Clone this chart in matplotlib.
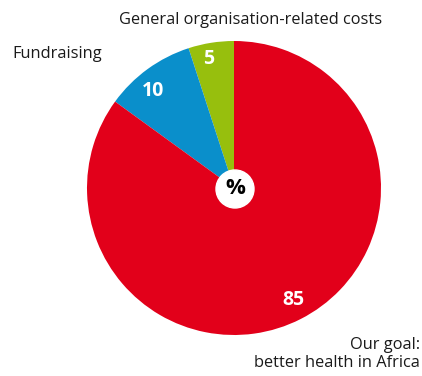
import matplotlib
matplotlib.use("Agg")
import matplotlib.pyplot as plt
from matplotlib.patches import Circle

# shares in percent, drawn counterclockwise from 12 o'clock
labels = ["General organisation-related costs", "Fundraising", "Our goal:\nbetter health in Africa"]
values = [5, 10, 85]
colors = ["#97BF0D", "#0A8FCB", "#E2001A"]

plt.rcParams['font.family'] = ['Open Sans', 'DejaVu Sans']

fig = plt.figure(figsize=(4.22, 3.76), dpi=100)
ax = fig.add_axes([0, 0, 1, 1])

cx, cy, r = 234, 188, 147
wedges, texts = ax.pie(values, colors=colors, startangle=90, counterclock=True,
                       center=(cx, cy), radius=r, frame=True,
                       wedgeprops=dict(linewidth=0))
ax.set_xlim(0, 422)
ax.set_ylim(0, 376)
ax.set_aspect('equal')
ax.axis('off')

# value labels inside the slices
val_pos = [(209, 376 - 59), (153, 376 - 91), (293, 376 - 300)]
for (x, y), v in zip(val_pos, values):
    ax.text(x, y, str(v), color="white", fontsize=14, fontweight="bold",
            ha="center", va="center")

# white centre with percent sign
ax.add_patch(Circle((cx + 1, cy - 1), 19, color="white", zorder=5))
ax.text(cx + 1, cy - 1, "%", fontsize=16, fontweight="bold", color="black",
        ha="center", va="center", zorder=6)

# category labels
ax.text(251, 376 - 20, labels[0], fontsize=11.8, ha="center", va="center", color="#1a1a1a")
ax.text(12, 376 - 54, labels[1], fontsize=11.8, ha="left", va="center", color="#1a1a1a")
ax.text(420, 376 - 354, labels[2], fontsize=11.8, ha="right", va="center",
        color="#1a1a1a", multialignment="right", linespacing=1.1)

fig.savefig("out.png", dpi=100)
